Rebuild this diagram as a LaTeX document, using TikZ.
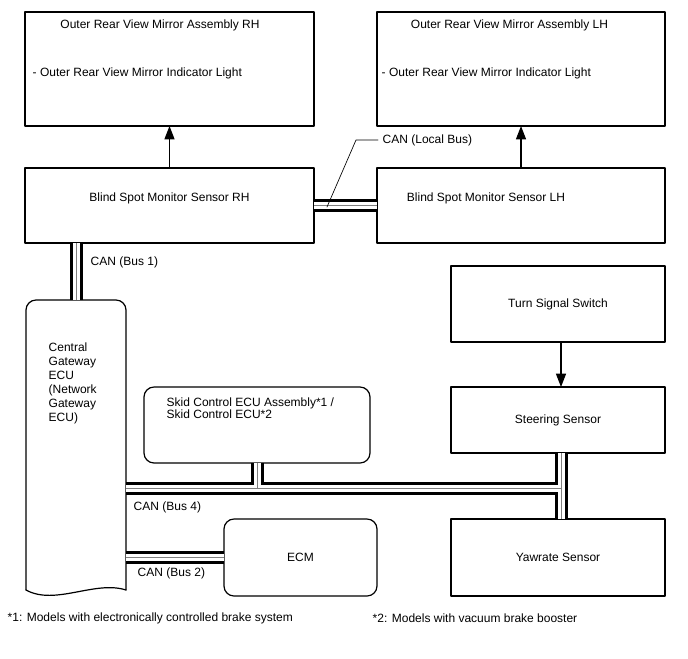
\documentclass[tikz,border=0pt]{standalone}
\usepackage{fontspec}
\setmainfont{Liberation Sans}
\usetikzlibrary{arrows.meta}

\begin{document}
\begin{tikzpicture}[
			x=0.75pt, y=-0.75pt,
			every node/.style={font=\fontsize{9}{11}\selectfont},
			line cap=round,
			line join=round,
			box/.style 2 args={draw, line width=0.9pt, inner sep=0pt, outer sep=0pt, minimum width=#1*0.75pt, minimum height=#2*0.75pt},
			bus/.style={draw=black, line width=9.75pt, line cap=butt, postaction={draw=white, line width=5.25pt}, postaction={draw=gray, line width=0.6pt}},
			sig/.style={line width=0.9pt, -{Triangle[length=10pt, width=7.5pt]}}
			]
			\useasboundingbox (0,0) rectangle (688,658);
			
			% Mirror assemblies
			\node[box={289}{114}] (mirR) at (169.5,69) {};
			\node (mirRtitle) at (160,25) {Outer Rear View Mirror Assembly RH};
			\node[anchor=west] (mirRlamp) at (28,73) {- Outer Rear View Mirror Indicator Light};
			
			\node[box={288}{114}] (mirL) at (521,69) {};
			\node (mirLtitle) at (509.5,25) {Outer Rear View Mirror Assembly LH};
			\node[anchor=west] (mirLlamp) at (377,73) {- Outer Rear View Mirror Indicator Light};
			
			% Blind spot monitor sensors
			\node[box={289}{75}] (bsmR) at (169.5,205.5) {};
			\node (bsmRtext) at (169.5,198) {Blind Spot Monitor Sensor RH};
			\node[box={288}{75}] (bsmL) at (521,205.5) {};
			\node (bsmLtext) at (486,198) {Blind Spot Monitor Sensor LH};
			
			% Central gateway
			\node[box={100}{290}, draw=none] (gw) at (76,445) {};
			\draw[line width=0.9pt, rounded corners=7.5pt] (gw.south west) -- (gw.north west) -- (gw.north east) -- (gw.south east);
			\draw[line width=0.9pt] (gw.south west) .. controls +(29,16) and +(-31,-10) .. (gw.south east);
			\node[anchor=north west, align=left, font=\fontsize{9}{10.5}\selectfont] (gwtext) at (44,338) {Central\\Gateway\\ECU\\(Network\\Gateway\\ECU)};
			
			% Skid control and ECM
			\node[box={226}{76}, rounded corners=7.5pt] (skid) at (257,425) {};
			\node[anchor=north west, align=left, font=\fontsize{9}{9}\selectfont] (skidtext) at (162,393) {Skid Control ECU Assembly*1 /\\Skid Control ECU*2};
			\node[box={153}{77}, rounded corners=7.5pt] (ecm) at (300.5,557.5) {ECM};
			
			% Right column
			\node[box={214}{76}] (turn) at (558,304) {Turn Signal Switch};
			\node[box={214}{66}] (steer) at (558,420) {Steering Sensor};
			\node[box={214}{77}] (yaw) at (558,557.5) {Yawrate Sensor};
			\coordinate (jR) at (561,488);
			
			% CAN buses
			\path[bus] (gw.east |- jR) -- (jR) (jR |- steer.south) -- (jR |- yaw.north) (skid.south) -- (skid.south |- jR);
			\path[bus] (bsmR.south -| gw.north) -- (gw.north);
			\path[bus] (bsmR.east) -- (bsmL.west);
			\path[bus] (gw.east |- ecm.west) -- (ecm.west);
			
			\node[anchor=west] (lblBus1) at (86,262) {CAN (Bus 1)};
			\node[anchor=west] (lblBus4) at (129,507) {CAN (Bus 4)};
			\node[anchor=west] (lblBus2) at (133,573) {CAN (Bus 2)};
			\node[anchor=west] (lblLocal) at (378,140) {CAN (Local Bus)};
			\coordinate (leadBend) at (356,140);
			\coordinate (leadEnd) at (327,207);
			\draw[line width=0.5pt] (lblLocal.west) -- (leadBend) -- (leadEnd);
			
			% Signal arrows
			\draw[sig] (bsmR.north) -- (mirR.south);
			\draw[sig] (bsmL.north) -- (mirL.south);
			\draw[sig] (jR |- turn.south) -- (jR |- steer.north);
			
			% Notes
			\node[anchor=west] (note1) at (3,618) {*1: Models with electronically controlled brake system};
			\node[anchor=west] (note2) at (368,618) {*2: Models with vacuum brake booster};
		\end{tikzpicture}
\end{document}
